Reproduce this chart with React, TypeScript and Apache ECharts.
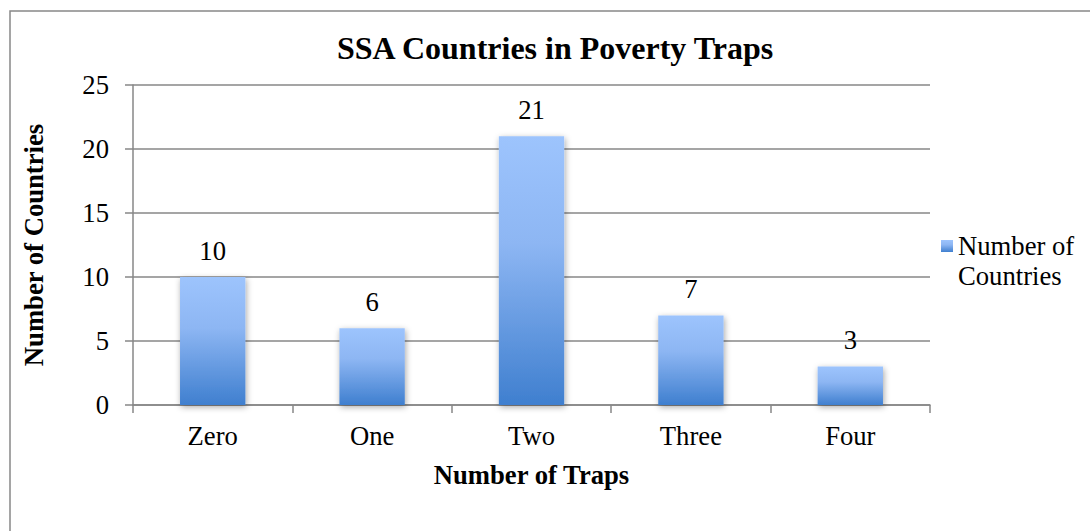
import React, { useEffect, useRef } from "react";
import * as echarts from "echarts";

const categories = ["Zero", "One", "Two", "Three", "Four"];
const values = [10, 6, 21, 7, 3];
const seriesName = "Number of\nCountries";
const titleText = "SSA Countries in Poverty Traps";
const xTitle = "Number of Traps";
const yTitle = "Number of Countries";

const FONT = '"Liberation Serif", "Times New Roman", serif';

export default function App() {
  const ref = useRef<HTMLDivElement>(null);
  useEffect(() => {
    document.body.style.margin = "0";
    const chart = echarts.init(ref.current!, null, { renderer: "svg" });
    chart.setOption({
      animation: false,
      textStyle: { fontFamily: FONT },
      title: {
        text: titleText,
        left: 337,
        top: 32,
        padding: 0,
        textStyle: { fontFamily: FONT, fontSize: 32, fontWeight: "bold", color: "#000" },
      },
      graphic: [
        {
          type: "rect",
          shape: { x: 10, y: 11, width: 1200, height: 700 },
          style: { fill: "none", stroke: "#888", lineWidth: 1.5 },
          silent: true,
          z: -1,
        },
      ],
      legend: {
        left: 941,
        top: 201,
        padding: 0,
        itemWidth: 12,
        itemHeight: 12,
        icon: "rect",
        formatter: () => "\n" + seriesName,
        textStyle: {
          fontFamily: FONT,
          fontSize: 26.67,
          color: "#000",
          lineHeight: 30,
        },
      },
      grid: { left: 133, top: 85, right: 160, bottom: 126 },
      xAxis: {
        type: "category",
        data: categories,
        name: xTitle,
        nameLocation: "middle",
        nameGap: 56,
        nameTextStyle: { fontFamily: FONT, fontSize: 26.67, fontWeight: "bold", color: "#000" },
        axisLine: { lineStyle: { color: "#878787", width: 1.5 } },
        axisTick: { show: true, length: 8, lineStyle: { color: "#878787", width: 1.5 } },
        axisLabel: { fontFamily: FONT, fontSize: 26.67, color: "#000", margin: 17 },
      },
      yAxis: {
        type: "value",
        min: 0,
        max: 25,
        interval: 5,
        name: yTitle,
        nameLocation: "middle",
        nameGap: 86,
        nameTextStyle: { fontFamily: FONT, fontSize: 26.67, fontWeight: "bold", color: "#000" },
        axisLine: { show: true, lineStyle: { color: "#878787", width: 1.5 } },
        axisTick: { show: true, length: 8, lineStyle: { color: "#878787", width: 1.5 } },
        axisLabel: { fontFamily: FONT, fontSize: 26.67, color: "#000", margin: 24 },
        splitLine: { lineStyle: { color: "#878787", width: 1.5 } },
      },
      series: [
        {
          type: "bar",
          name: seriesName,
          data: values,
          barWidth: "41%",
          itemStyle: {
            color: new echarts.graphic.LinearGradient(0, 0, 0, 1, [
              { offset: 0, color: "#9dc4fd" },
              { offset: 0.4, color: "#8db6f3" },
              { offset: 1, color: "#3f7fcf" },
            ]),
            shadowBlur: 6,
            shadowColor: "rgba(0,0,0,0.35)",
            shadowOffsetX: 1,
            shadowOffsetY: 2,
          },
          label: {
            show: true,
            position: "top",
            distance: 13,
            fontFamily: FONT,
            fontSize: 26.67,
            color: "#000",
          },
        },
      ],
    });
    return () => chart.dispose();
  }, []);
  return <div ref={ref} style={{ width: 1090, height: 531 }} />;
}
